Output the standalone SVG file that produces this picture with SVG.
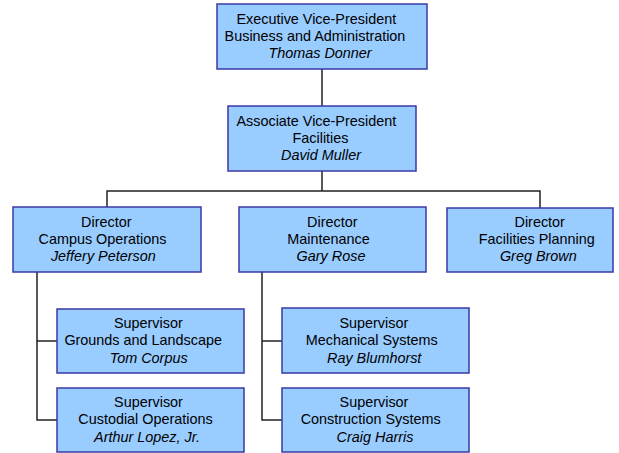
<svg xmlns="http://www.w3.org/2000/svg" width="619" height="453" viewBox="0 0 619 453">
  <style>
    .box { fill: #99ccff; stroke: #3a3aa6; stroke-width: 1.5; }
    .wire { fill: none; stroke: #222222; stroke-width: 1.5; }
    text { font-family: "Liberation Sans", Arial, sans-serif; font-size: 14.4px; fill: #000000; text-anchor: middle; }
    .name { font-style: italic; }
  </style>
  <rect width="619" height="453" fill="#ffffff"/>

  <g id="connectors">
    <line class="wire" x1="322" y1="69" x2="322" y2="106"/>
    <line class="wire" x1="322" y1="171" x2="322" y2="191"/>
    <polyline class="wire" points="107,207 107,191 540,191 540,208"/>
    <polyline class="wire" points="37,272 37,420 57,420"/>
    <line class="wire" x1="37" y1="341" x2="57" y2="341"/>
    <polyline class="wire" points="262,272 262,420 282,420"/>
    <line class="wire" x1="262" y1="341" x2="282" y2="341"/>
  </g>

  <g id="evp">
    <rect class="box" x="217" y="4" width="210" height="65"/>
    <text x="316.3" y="24">Executive Vice-President</text>
    <text x="315" y="41">Business and Administration</text>
    <text class="name" x="320" y="58">Thomas Donner</text>
  </g>

  <g id="avp">
    <rect class="box" x="228" y="106" width="188" height="65"/>
    <text x="316.3" y="126">Associate Vice-President</text>
    <text x="320.5" y="143">Facilities</text>
    <text class="name" x="321" y="160">David Muller</text>
  </g>

  <g id="dir-campus">
    <rect class="box" x="13" y="207" width="188" height="65"/>
    <text x="106.3" y="226.5">Director</text>
    <text x="102.5" y="243.5">Campus Operations</text>
    <text class="name" x="103.3" y="260.5">Jeffery Peterson</text>
  </g>

  <g id="dir-maint">
    <rect class="box" x="239" y="207" width="187" height="65"/>
    <text x="332.3" y="226.5">Director</text>
    <text x="328.5" y="243.5">Maintenance</text>
    <text class="name" x="331" y="260.5">Gary Rose</text>
  </g>

  <g id="dir-planning">
    <rect class="box" x="447" y="208" width="166" height="64"/>
    <text x="539.7" y="226.5">Director</text>
    <text x="536.8" y="243.5">Facilities Planning</text>
    <text class="name" x="538.3" y="260.5">Greg Brown</text>
  </g>

  <g id="sup-grounds">
    <rect class="box" x="57" y="309" width="187" height="64"/>
    <text x="148.3" y="327.5">Supervisor</text>
    <text x="143.2" y="345">Grounds and Landscape</text>
    <text class="name" x="148.7" y="362.5">Tom Corpus</text>
  </g>

  <g id="sup-custodial">
    <rect class="box" x="57" y="388" width="187" height="64"/>
    <text x="148.5" y="406.5">Supervisor</text>
    <text x="145.5" y="424">Custodial Operations</text>
    <text class="name" x="147" y="441.5">Arthur Lopez, Jr.</text>
  </g>

  <g id="sup-mechanical">
    <rect class="box" x="282" y="308" width="187" height="65"/>
    <text x="373.8" y="327.5">Supervisor</text>
    <text x="371.7" y="345">Mechanical Systems</text>
    <text class="name" x="374.2" y="362.5">Ray Blumhorst</text>
  </g>

  <g id="sup-construction">
    <rect class="box" x="282" y="388" width="187" height="64"/>
    <text x="374" y="406.5">Supervisor</text>
    <text x="370.7" y="424">Construction Systems</text>
    <text class="name" x="375" y="441.5">Craig Harris</text>
  </g>
</svg>
